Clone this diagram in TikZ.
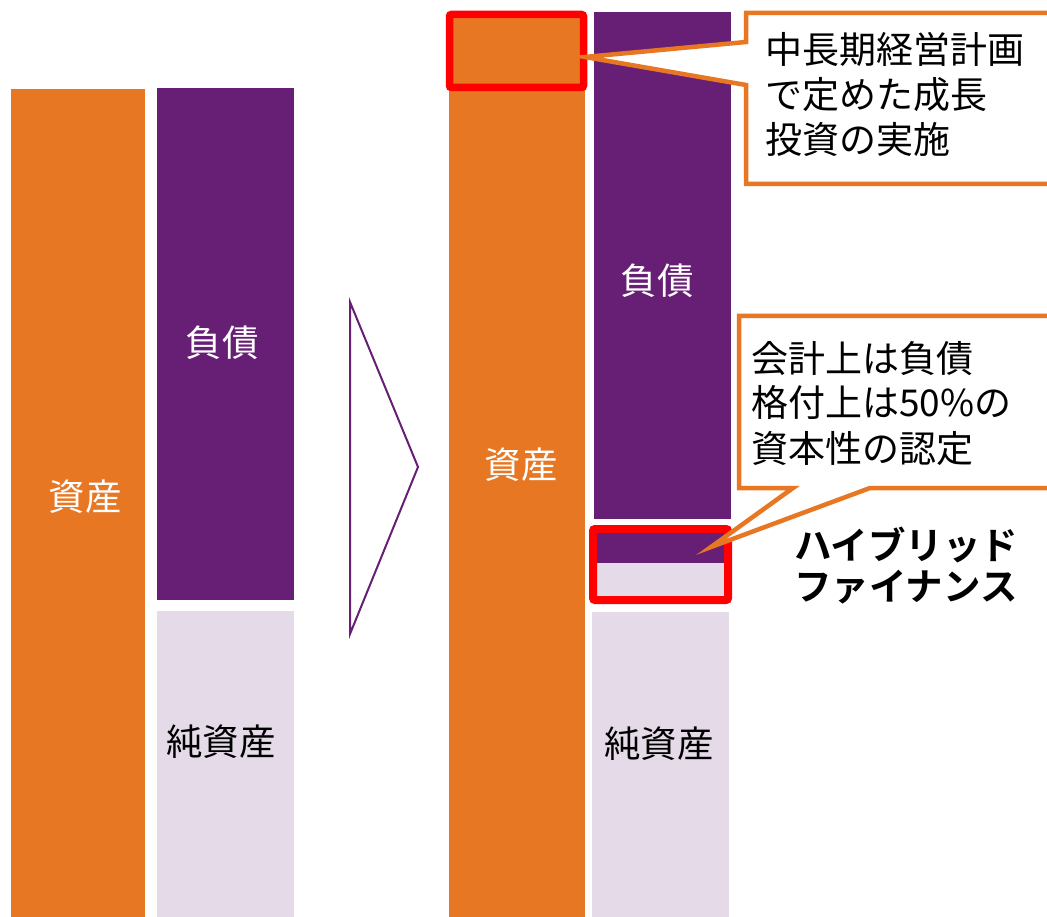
\documentclass[tikz,border=0pt]{standalone}
\usepackage{fontspec}
\setmainfont{Noto Sans CJK JP}[BoldFont={Noto Sans CJK JP Bold}]
\definecolor{corange}{RGB}{231,119,34}
\definecolor{cpurple}{RGB}{103,30,117}
\definecolor{clav}{RGB}{228,218,232}
\definecolor{cred}{RGB}{255,0,0}
\tikzset{
  bar/.style={draw=none, inner sep=0pt, anchor=north west, rectangle},
  lbl/.style={inner sep=0pt, font=\fontsize{36.5}{40}\selectfont},
  ctext/.style={inner sep=0pt, anchor=base west, font=\fontsize{37}{40}\selectfont},
  redbox/.style={draw=cred, line width=7.5pt, rounded corners=2pt},
  callout/.style={draw=corange, fill=white, line width=4.5pt, line join=miter},
  hyb/.style={inner sep=0pt, anchor=base west, font=\bfseries\fontsize{37.5}{40}\selectfont}
}
\begin{document}
\begin{tikzpicture}[x=1pt,y=-1pt]
\useasboundingbox (0,0) rectangle (1047,917);
\clip (0,0) rectangle (1047,917);
% left side
\node[bar, fill=corange, minimum width=134pt, minimum height=831pt] (assetL) at (11,89) {};
\node[bar, fill=cpurple, minimum width=137pt, minimum height=512pt] (liabL) at (157,88) {};
\node[bar, fill=clav, minimum width=137pt, minimum height=309pt] (eqL) at (157,611) {};
\node[lbl, text=white] (tassetL) at (85,497) {資産};
\node[lbl, text=white] (tliabL) at (222,343) {負債};
\node[lbl, text=black] (teqL) at (221,742) {純資産};
% arrow triangle
\draw[cpurple, line width=2pt, line join=miter] (350,302) -- (418,467) -- (350,634) -- cycle;
% right side
\node[bar, fill=corange, minimum width=136pt, minimum height=908pt] (assetR) at (449,12) {};
\node[bar, fill=cpurple, minimum width=137pt, minimum height=507pt] (liabR) at (594,12) {};
\node[bar, fill=cpurple, minimum width=127pt, minimum height=30pt] (hybP) at (597,533) {};
\node[bar, fill=clav, minimum width=127pt, minimum height=33pt] (hybL) at (597,563) {};
\node[bar, fill=clav, minimum width=137pt, minimum height=308pt] (eqR) at (592,612) {};
\node[lbl, text=white] (tassetR) at (521,465) {資産};
\node[lbl, text=white] (tliabR) at (657,281) {負債};
\node[lbl, text=black] (teqR) at (659,744) {純資産};
% red boxes
\draw[redbox] (449.5,14.5) rectangle (583.5,87.5);
\draw[redbox, line width=8pt] (593,529) rectangle (728,600);
% callout 1
\draw[callout] (746,13) -- (1070,13) -- (1070,184) -- (746,184) -- (746,85) -- (585,57) -- (746,42) -- cycle;
\node[ctext] (c1a) at (765,64) {中長期経営計画};
\node[ctext] (c1b) at (765,109) {で定めた成長};
\node[ctext] (c1c) at (765,154) {投資の実施};
% callout 2
\draw[callout] (739,316) -- (1070,316) -- (1070,488) -- (870,488) -- (711,547) -- (793,488) -- (739,488) -- cycle;
\node[ctext] (c2a) at (751,372) {会計上は負債};
\node[ctext] (c2b) at (751,416) {格付上は50\%の};
\node[ctext] (c2c) at (751,462) {資本性の認定};
% hybrid label
\node[hyb] (h1) at (794,559) {ハイブリッド};
\node[hyb] (h2) at (794,600) {ファイナンス};
\end{tikzpicture}
\end{document}
